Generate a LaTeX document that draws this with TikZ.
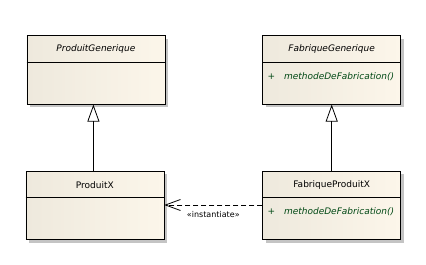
\documentclass[tikz,border=0pt]{standalone}
\usepackage{fontspec}
\setmainfont{DejaVu Sans}
\usetikzlibrary{shadows,arrows.meta,calc}
\definecolor{clsL}{RGB}{238,233,221}
\definecolor{clsR}{RGB}{252,246,234}
\definecolor{shadowgray}{RGB}{196,196,196}
\definecolor{methgreen}{RGB}{0,72,20}
\begin{document}
\begin{tikzpicture}[x=1pt,y=-1pt,
  cls/.style={draw=black, line width=0.8pt, left color=clsL, right color=clsR,
    drop shadow={shadow xshift=3pt,shadow yshift=-3pt,fill=shadowgray,opacity=1},
    minimum width=138pt, minimum height=68.5pt, inner sep=0pt, anchor=north west},
  divider/.style={line width=0.8pt},
  title/.style={font=\fontsize{9}{11}\selectfont, inner sep=0pt},
  meth/.style={font=\fontsize{9}{11}\selectfont\itshape, text=methgreen, inner sep=0pt, anchor=west},
  inherit/.style={line width=0.8pt, -{Triangle[open,length=17pt,width=12pt,line width=0.8pt]}},
  depend/.style={line width=0.8pt, dash pattern=on 5pt off 3pt, -{Straight Barb[length=15pt,width=11pt,line width=0.8pt]}},
  stereo/.style={font=\fontsize{8}{10}\selectfont, inner sep=0pt}
]
\useasboundingbox (0,0) rectangle (426,265);
\fill[white] (0,0) rectangle (426,265);

% boxes
\node[cls] (pg) at (26.5,35.3) {};
\node[cls] (fg) at (262.3,35.3) {};
\node[cls] (px) at (25.5,170.7) {};
\node[cls] (fpx) at (262.3,170.7) {};

% dividers
\draw[divider] ($(pg.north west)+(0,27)$) -- ($(pg.north east)+(0,27)$);
\draw[divider] ($(fg.north west)+(0,27)$) -- ($(fg.north east)+(0,27)$);
\draw[divider] ($(px.north west)+(0,26.6)$) -- ($(px.north east)+(0,26.6)$);
\draw[divider] ($(fpx.north west)+(0,26.6)$) -- ($(fpx.north east)+(0,26.6)$);

% titles
\node[title] (tpg) at ($(pg.north)+(0,13.8)$) {\itshape ProduitGenerique};
\node[title] (tfg) at ($(fg.north)+(0,13.8)$) {\itshape FabriqueGenerique};
\node[title] (tpx) at ($(px.north)+(0,14.3)$) {ProduitX};
\node[title] (tfpx) at ($(fpx.north)+(0,14.3)$) {FabriqueProduitX};

% methods
\node[meth, font=\fontsize{9}{11}\selectfont] (pfg) at ($(fg.north west)+(5,41.4)$) {+};
\node[meth] (mfg) at ($(fg.north west)+(21.5,41.4)$) {methodeDeFabrication()};
\node[meth, font=\fontsize{9}{11}\selectfont] (pfpx) at ($(fpx.north west)+(5,41)$) {+};
\node[meth] (mfpx) at ($(fpx.north west)+(21.5,41)$) {methodeDeFabrication()};

% inheritance
\draw[inherit] ($(px.north)+(-1.5,0)$) -- ($(pg.south)+(-2.5,0)$);
\draw[inherit] (fpx.north) -- (fg.south);

% dependency
\draw[depend] ($(fpx.north west)+(0,34.3)$) -- ($(px.north east)+(0,34.3)$)
  node[stereo, pos=0.5, yshift=-10pt] (lbl) {«instantiate»};
\end{tikzpicture}
\end{document}
